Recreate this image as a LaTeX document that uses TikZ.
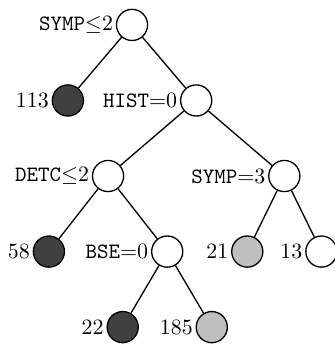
\documentclass[tikz,border=0pt]{standalone}
\begin{document}
\begin{tikzpicture}[
                    every node/.style={circle, draw, semithick, minimum size=0.5cm, inner sep=0pt},
                    every label/.style={draw=none, rectangle, minimum size=0pt, inner sep=1pt},
                    edge from parent/.style={draw, semithick},
                    pure/.style={fill=black!75},
                    mixed/.style={fill=black!25},
                    level 1/.style={sibling distance=2.06cm},
                    level 2/.style={sibling distance=2.83cm},
                    level 3/.style={sibling distance=1.9cm},
                    level 4/.style={sibling distance=1.43cm},
                    level distance=1.213cm,
                ]
                \useasboundingbox (-2.12,0.40) rectangle (3.244,-5.139);
                \node (symp) [label=left:{\texttt{SYMP}$\leq$2}] {}
                child {node (n113) [pure, label=left:113] {}}
                child {node (hist) [label=left:{\texttt{HIST}$=$0}] {}
                    child {node (detc) [label=left:{\texttt{DETC}$\leq$2}] {}
                        child {node (n58) [pure, label=left:58] {}}
                        child {node (bse) [label=left:{\texttt{BSE}$=$0}] {}
                            child {node (n22) [pure, label=left:22] {}}
                            child {node (n185) [mixed, label=left:185] {}}
                        }
                    }
                    child[level 3/.style={sibling distance=1.19cm}] {node (sympb) [label=left:{\texttt{SYMP}$=$3}] {}
                        child {node (n21) [mixed, label=left:21] {}}
                        child {node (n13) [label=left:13] {}}
                    }
                };
                \end{tikzpicture}
\end{document}
